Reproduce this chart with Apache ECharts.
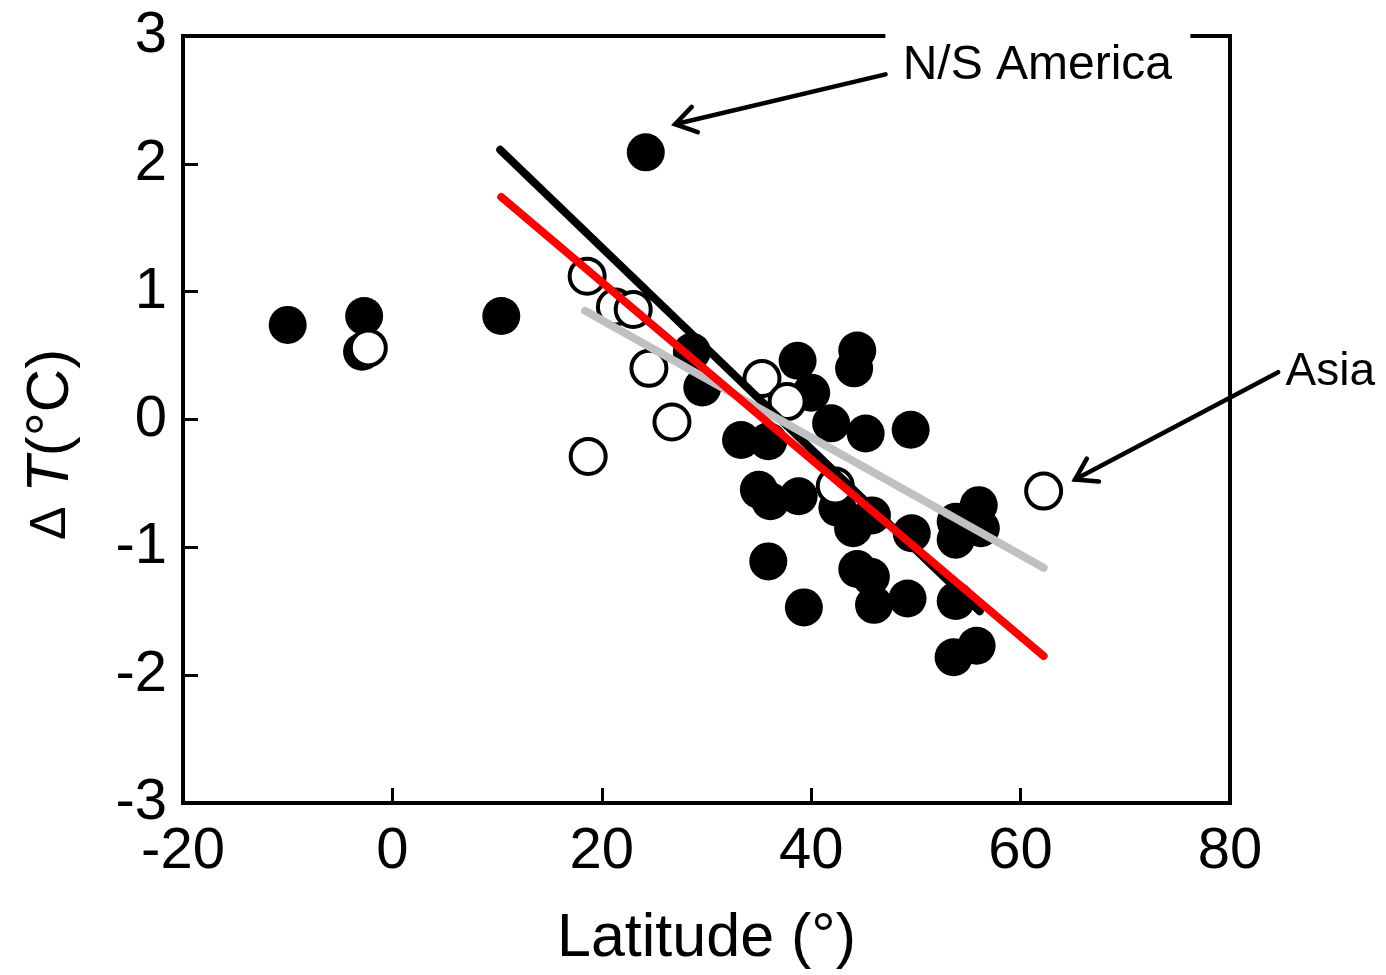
<!DOCTYPE html>
<html>
<head>
<meta charset="utf-8">
<script src="https://cdn.jsdelivr.net/npm/echarts@6/dist/echarts.min.js"></script>
<style>
  html, body { margin: 0; padding: 0; background: #fff; }
  #chart { width: 1386px; height: 975px; }
</style>
</head>
<body>
<div id="chart"></div>
<script>
// filled circles (N/S America)
const filledLat = [-10.0, -2.7, -2.9, 10.4, 24.2, 28.6, 29.6, 33.3, 35.9, 38.7, 40.0, 41.9,
  44.4, 44.1, 45.2, 49.5, 35.0, 36.1, 38.8, 42.5, 44.0, 45.8, 49.6, 53.8, 53.8, 56.0, 56.2,
  35.9, 39.3, 44.4, 45.7, 46.0, 49.2, 53.8, 53.6, 55.8];
const filledDT = [0.74, 0.81, 0.53, 0.81, 2.09, 0.53, 0.25, -0.16, -0.17, 0.46, 0.21, -0.03,
  0.54, 0.40, -0.11, -0.08, -0.55, -0.64, -0.60, -0.69, -0.85, -0.75, -0.89, -0.80, -0.94, -0.67, -0.85,
  -1.11, -1.47, -1.17, -1.23, -1.45, -1.40, -1.42, -1.86, -1.77];

// open circles (Asia)
const openLat = [-2.3, 18.6, 21.3, 23.0, 24.5, 26.7, 18.7, 35.3, 37.7, 42.3, 62.2];
const openDT = [0.56, 1.12, 0.88, 0.86, 0.40, -0.02, -0.29, 0.32, 0.14, -0.52, -0.56];

// regression line end points
const fitBlack = [[10.3, 2.11], [56.1, -1.50]];
const fitGray = [[18.4, 0.85], [62.2, -1.16]];
const fitRed = [[10.4, 1.74], [62.2, -1.85]];

const xTicks = [-20, 0, 20, 40, 60, 80];
const yTicks = [-3, -2, -1, 0, 1, 2, 3];

const font = '"Liberation Sans", Arial, sans-serif';
const zip = (a, b) => a.map((v, i) => [v, b[i]]);

const chart = echarts.init(document.getElementById('chart'));

chart.setOption({
  backgroundColor: '#fff',
  animation: false,
  grid: {
    left: 183, top: 36, right: 156, bottom: 169,
    show: true, borderColor: '#000', borderWidth: 4, backgroundColor: 'transparent'
  },
  xAxis: {
    type: 'value',
    min: xTicks[0], max: xTicks[xTicks.length - 1], interval: 20,
    name: 'Latitude (°)',
    nameLocation: 'middle',
    nameGap: 106,
    nameTextStyle: { fontFamily: font, fontSize: 61, color: '#000' },
    axisLine: { show: true, onZero: false, lineStyle: { color: '#000', width: 4 } },
    axisTick: { show: true, inside: true, length: 15, lineStyle: { color: '#000', width: 3 } },
    axisLabel: { fontFamily: font, fontSize: 58, color: '#000', margin: 20 },
    splitLine: { show: false }
  },
  yAxis: {
    type: 'value',
    min: yTicks[0], max: yTicks[yTicks.length - 1], interval: 1,
    name: '{d|Δ }{b|T}{a|(°C)}',
    nameLocation: 'middle',
    nameGap: 102,
    nameTextStyle: {
      padding: [0, 50, 0, 0],
      rich: {
        d: { fontFamily: font, fontSize: 50, color: '#000' },
        a: { fontFamily: font, fontSize: 60, color: '#000' },
        b: { fontFamily: font, fontSize: 60, color: '#000', fontStyle: 'italic' }
      }
    },
    axisLine: { show: true, onZero: false, lineStyle: { color: '#000', width: 4 } },
    axisTick: { show: true, inside: true, length: 15, lineStyle: { color: '#000', width: 3 } },
    axisLabel: { fontFamily: font, fontSize: 58, color: '#000', margin: 16 },
    splitLine: { show: false }
  },
  series: [
    {
      name: 'N/S America',
      type: 'scatter',
      data: zip(filledLat, filledDT),
      symbol: 'circle',
      symbolSize: 38,
      itemStyle: { color: '#000', opacity: 1 },
      z: 2
    },
    {
      name: 'Asia',
      type: 'scatter',
      data: zip(openLat, openDT),
      symbol: 'circle',
      symbolSize: 35,
      itemStyle: { color: '#fff', borderColor: '#000', borderWidth: 4, opacity: 1 },
      z: 3
    },
    {
      type: 'line', data: fitBlack, symbol: 'none', z: 4,
      lineStyle: { color: '#000', width: 8, cap: 'round' }
    },
    {
      type: 'line', data: fitGray, symbol: 'none', z: 5,
      lineStyle: { color: '#c0c0c0', width: 8, cap: 'round' }
    },
    {
      type: 'line', data: fitRed, symbol: 'none', z: 6,
      lineStyle: { color: '#ff0000', width: 8, cap: 'round' }
    }
  ]
});

// annotations, anchored in data coordinates
function toPx(p) {
  return chart.convertToPixel({ gridIndex: 0 }, p);
}

function arrow(from, to) {
  const a = toPx(from);
  const b = toPx(to);
  const ang = Math.atan2(a[1] - b[1], a[0] - b[0]);
  const len = 24, spread = Math.PI / 5.5;
  const h1 = [b[0] + len * Math.cos(ang + spread), b[1] + len * Math.sin(ang + spread)];
  const h2 = [b[0] + len * Math.cos(ang - spread), b[1] + len * Math.sin(ang - spread)];
  return [
    { type: 'line', z: 100, shape: { x1: a[0], y1: a[1], x2: b[0], y2: b[1] },
      style: { stroke: '#000', lineWidth: 4.5, lineCap: 'round' } },
    { type: 'polyline', z: 100, shape: { points: [h1, b, h2] },
      style: { stroke: '#000', fill: null, lineWidth: 4.5, lineCap: 'round', lineJoin: 'miter' } }
  ];
}

const nsLabel = toPx([61.6, 2.77]);
const asiaLabel = toPx([85.3, 0.37]);

chart.setOption({
  graphic: [
    { type: 'rect', z: 99, shape: { x: nsLabel[0] - 152, y: nsLabel[1] - 40, width: 305, height: 78 },
      style: { fill: '#fff' } },
    { type: 'text', z: 101, x: nsLabel[0], y: nsLabel[1],
      style: { text: 'N/S America', font: '48px ' + font, fill: '#000', align: 'center', verticalAlign: 'middle' } },
    { type: 'text', z: 101, x: asiaLabel[0], y: asiaLabel[1],
      style: { text: 'Asia', font: '46px ' + font, fill: '#000', align: 'left', verticalAlign: 'middle' } }
  ].concat(arrow([47.1, 2.70], [27.0, 2.31]), arrow([84.6, 0.37], [65.2, -0.47]))
});
</script>
</body>
</html>
